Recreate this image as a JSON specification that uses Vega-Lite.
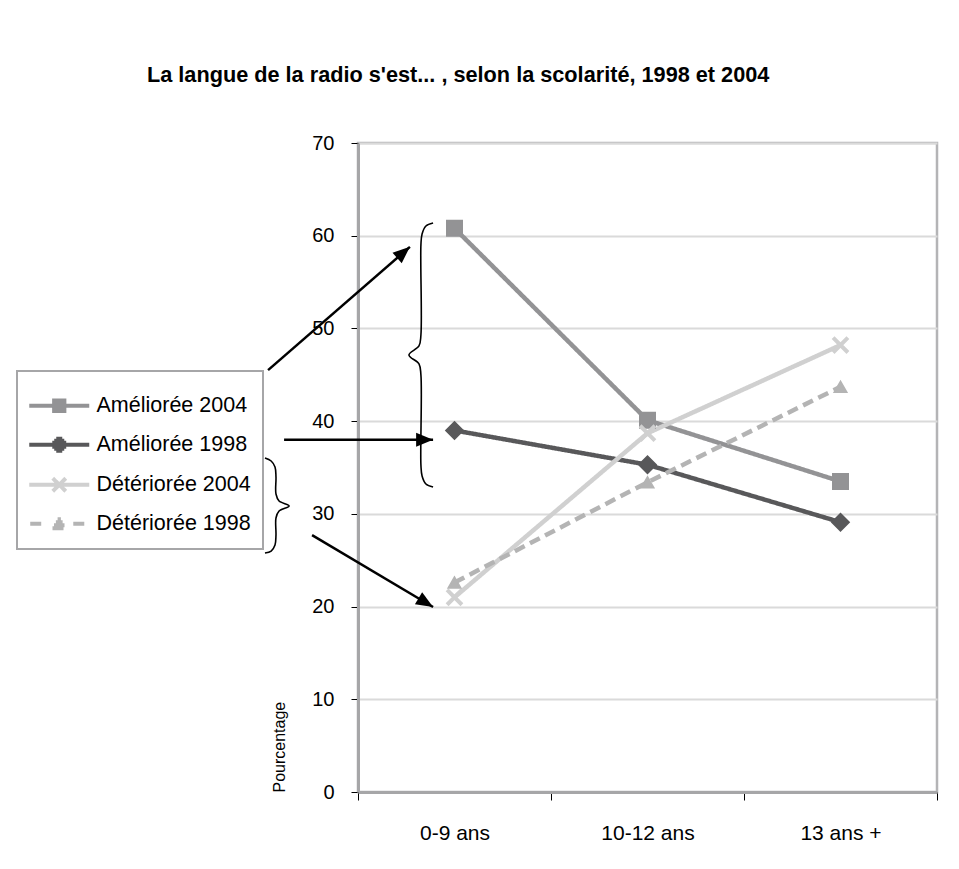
{
  "$schema": "https://vega.github.io/schema/vega-lite/v6.json",
  "width": 579,
  "height": 649,
  "autosize": "none",
  "padding": {"left": 358, "top": 143, "right": 22, "bottom": 77},
  "background": "white",
  "view": {"stroke": "#b4b4b6", "strokeWidth": 2.5},
  "title": {
    "text": "La langue de la radio s'est... , selon la scolarité, 1998 et 2004",
    "font": "Liberation Sans",
    "fontSize": 21.7,
    "fontWeight": "bold",
    "color": "black",
    "anchor": "start",
    "frame": "group",
    "dx": -211,
    "offset": 46
  },
  "datasets": {
    "main": [
      {"cat": "0-9 ans", "serie": "Améliorée 2004", "pct": 60.8},
      {"cat": "10-12 ans", "serie": "Améliorée 2004", "pct": 40.1},
      {"cat": "13 ans +", "serie": "Améliorée 2004", "pct": 33.5},
      {"cat": "0-9 ans", "serie": "Améliorée 1998", "pct": 39.0},
      {"cat": "10-12 ans", "serie": "Améliorée 1998", "pct": 35.3},
      {"cat": "13 ans +", "serie": "Améliorée 1998", "pct": 29.1},
      {"cat": "0-9 ans", "serie": "Détériorée 2004", "pct": 21.0},
      {"cat": "10-12 ans", "serie": "Détériorée 2004", "pct": 38.7},
      {"cat": "13 ans +", "serie": "Détériorée 2004", "pct": 48.2},
      {"cat": "0-9 ans", "serie": "Détériorée 1998", "pct": 22.6},
      {"cat": "10-12 ans", "serie": "Détériorée 1998", "pct": 33.4},
      {"cat": "13 ans +", "serie": "Détériorée 1998", "pct": 43.7}
    ],
    "arrows": [
      {"id": "a1", "i": 0, "ax": -0.966, "pct": 45.5},
      {"id": "a1", "i": 1, "ax": -0.231, "pct": 58.8},
      {"id": "a2", "i": 0, "ax": -0.883, "pct": 38.0},
      {"id": "a2", "i": 1, "ax": -0.111, "pct": 38.0},
      {"id": "a3", "i": 0, "ax": -0.738, "pct": 27.7},
      {"id": "a3", "i": 1, "ax": -0.111, "pct": 19.95}
    ],
    "braces": [
      {"id": "b1", "i": 0, "ax": -0.111, "pct": 61.37},
      {"id": "b1", "i": 1, "ax": -0.148, "pct": 61.05},
      {"id": "b1", "i": 2, "ax": -0.168, "pct": 60.19},
      {"id": "b1", "i": 3, "ax": -0.174, "pct": 59.0},
      {"id": "b1", "i": 4, "ax": -0.174, "pct": 49.29},
      {"id": "b1", "i": 5, "ax": -0.184, "pct": 48.11},
      {"id": "b1", "i": 6, "ax": -0.236, "pct": 47.14},
      {"id": "b1", "i": 7, "ax": -0.184, "pct": 46.17},
      {"id": "b1", "i": 8, "ax": -0.174, "pct": 44.98},
      {"id": "b1", "i": 9, "ax": -0.174, "pct": 35.27},
      {"id": "b1", "i": 10, "ax": -0.168, "pct": 34.09},
      {"id": "b1", "i": 11, "ax": -0.148, "pct": 33.22},
      {"id": "b1", "i": 12, "ax": -0.111, "pct": 32.9},
      {"id": "b2", "i": 0, "ax": -0.982, "pct": 36.03},
      {"id": "b2", "i": 1, "ax": -0.950, "pct": 35.7},
      {"id": "b2", "i": 2, "ax": -0.930, "pct": 35.06},
      {"id": "b2", "i": 3, "ax": -0.925, "pct": 33.98},
      {"id": "b2", "i": 4, "ax": -0.925, "pct": 32.14},
      {"id": "b2", "i": 5, "ax": -0.909, "pct": 31.39},
      {"id": "b2", "i": 6, "ax": -0.857, "pct": 30.85},
      {"id": "b2", "i": 7, "ax": -0.909, "pct": 30.31},
      {"id": "b2", "i": 8, "ax": -0.925, "pct": 29.55},
      {"id": "b2", "i": 9, "ax": -0.925, "pct": 27.72},
      {"id": "b2", "i": 10, "ax": -0.930, "pct": 26.64},
      {"id": "b2", "i": 11, "ax": -0.950, "pct": 25.99},
      {"id": "b2", "i": 12, "ax": -0.982, "pct": 25.78}
    ],
    "heads": [
      {"id": "a1", "ax": -0.231, "pct": 58.8},
      {"id": "a2", "ax": -0.111, "pct": 38.0},
      {"id": "a3", "ax": -0.111, "pct": 19.95}
    ]
  },
  "layer": [
    {
      "data": {"name": "main"},
      "encoding": {
        "x": {
          "field": "cat",
          "type": "nominal",
          "sort": ["0-9 ans", "10-12 ans", "13 ans +"],
          "scale": {"type": "band", "paddingInner": 0, "paddingOuter": 0},
          "axis": {
            "title": null,
            "labelAngle": 0,
            "labelFont": "Liberation Sans",
            "labelFontSize": 21,
            "labelColor": "black",
            "labelPadding": 22,
            "tickBand": "extent",
            "tickColor": "black",
            "tickSize": 8,
            "tickWidth": 1,
            "domainColor": "#a6a6a8",
            "domainWidth": 3,
            "grid": false
          }
        },
        "y": {
          "field": "pct",
          "type": "quantitative",
          "scale": {"domain": [0, 70], "nice": false, "zero": true},
          "axis": {
            "title": "Pourcentage",
            "titleFont": "Liberation Sans",
            "titleFontSize": 16,
            "titleFontWeight": "normal",
            "titleColor": "black",
            "titleAnchor": "start",
            "titlePadding": 24,
            "values": [0, 10, 20, 30, 40, 50, 60, 70],
            "labelFont": "Liberation Sans",
            "labelFontSize": 20,
            "labelColor": "black",
            "labelPadding": 17,
            "tickColor": "black",
            "tickSize": 7,
            "tickWidth": 1,
            "domainColor": "#a6a6a8",
            "domainWidth": 3,
            "grid": true,
            "gridColor": "#dadada",
            "gridWidth": 2
          }
        },
        "color": {
          "field": "serie",
          "type": "nominal",
          "scale": {
            "domain": ["Améliorée 2004", "Améliorée 1998", "Détériorée 2004", "Détériorée 1998"],
            "range": ["#939395", "#58585a", "#d0d0d0", "#b4b4b4"]
          },
          "legend": null
        }
      },
      "layer": [
        {
          "mark": {"type": "line", "strokeWidth": 4.5},
          "encoding": {
            "color": {
              "field": "serie",
              "type": "nominal",
              "legend": {
                "orient": "none",
                "legendX": -341,
                "legendY": 228,
                "title": "\u00a0",
                "titleFontSize": 12,
                "titlePadding": 0,
                "padding": 12,
                "strokeColor": "#a6a6a8",
                "fillColor": "white",
                "symbolSize": 225,
                "symbolStrokeWidth": 4,
                "rowPadding": 11,
                "labelOffset": 46,
                "labelFont": "Liberation Sans",
                "labelFontSize": 21.5,
                "labelColor": "black",
                "labelLimit": 400,
                "encode": {
                  "legend": {"update": {"strokeWidth": {"value": 2}}},
                  "symbols": {
                    "update": {
                      "shape": {"signal": "datum.value === 'Améliorée 2004' ? 'M-1.4,0H6.6M1.65,-0.7H3.55M1.65,-0.25H3.55M1.65,0.25H3.55M1.65,0.7H3.55' : datum.value === 'Améliorée 1998' ? 'M-1.4,0H6.6M1.67,-0.27H3.53M1.93,-0.53H3.27M2.2,-0.8H3.0M1.67,0.27H3.53M1.93,0.53H3.27M2.2,0.8H3.0' : datum.value === 'Détériorée 2004' ? 'M-1.4,0H6.6M1.73,-0.87L3.47,0.87M1.73,0.87L3.47,-0.87' : 'M-1.27,0H0.2M4.47,0H6.2M2.38,-0.6H2.82M2.15,-0.2H3.05M1.9,0.2H3.3M1.7,0.6H3.5'"},
                      "size": {"value": 225},
                      "strokeWidth": {"value": 4}
                    }
                  }
                }
              }
            },
            "strokeDash": {
              "field": "serie",
              "type": "nominal",
              "scale": {
                "domain": ["Améliorée 2004", "Améliorée 1998", "Détériorée 2004", "Détériorée 1998"],
                "range": [[1, 0], [1, 0], [1, 0], [11, 6]]
              },
              "legend": null
            }
          }
        },
        {
          "transform": [{"filter": "datum.serie === 'Améliorée 2004'"}],
          "mark": {"type": "point", "filled": true, "opacity": 1, "shape": "square", "size": 240, "strokeWidth": 1.5, "stroke": "#939395"}
        },
        {
          "transform": [{"filter": "datum.serie === 'Améliorée 1998'"}],
          "mark": {"type": "point", "filled": true, "opacity": 1, "shape": "diamond", "size": 300, "strokeWidth": 1.5, "stroke": "#58585a"}
        },
        {
          "transform": [{"filter": "datum.serie === 'Détériorée 2004'"}],
          "mark": {"type": "point", "filled": false, "opacity": 1, "shape": "M-1,-1L1,1M-1,1L1,-1", "size": 220, "strokeWidth": 4}
        },
        {
          "transform": [{"filter": "datum.serie === 'Détériorée 1998'"}],
          "mark": {"type": "point", "filled": true, "opacity": 1, "shape": "triangle-up", "size": 160, "strokeWidth": 1.5, "stroke": "#b4b4b4"}
        }
      ]
    },
    {
      "encoding": {
        "x": {
          "field": "ax",
          "type": "quantitative",
          "scale": {"domain": [-0.5, 2.5], "nice": false, "zero": false},
          "axis": null
        },
        "y": {"field": "pct", "type": "quantitative"}
      },
      "layer": [
        {
          "data": {"name": "arrows"},
          "mark": {"type": "line", "color": "black", "strokeWidth": 2.5},
          "encoding": {
            "detail": {"field": "id", "type": "nominal"},
            "order": {"field": "i", "type": "quantitative"}
          }
        },
        {
          "data": {"name": "braces"},
          "mark": {"type": "line", "color": "black", "strokeWidth": 1.6, "interpolate": "catmull-rom"},
          "encoding": {
            "detail": {"field": "id", "type": "nominal"},
            "order": {"field": "i", "type": "quantitative"}
          }
        },
        {
          "data": {"name": "heads"},
          "transform": [{"filter": "datum.id === 'a1'"}],
          "mark": {"type": "point", "filled": true, "color": "black", "opacity": 1, "shape": "M0,0L-0.6,1.45L0.6,1.45Z", "size": 548, "angle": 49}
        },
        {
          "data": {"name": "heads"},
          "transform": [{"filter": "datum.id === 'a2'"}],
          "mark": {"type": "point", "filled": true, "color": "black", "opacity": 1, "shape": "M0,0L-0.6,1.45L0.6,1.45Z", "size": 548, "angle": 90}
        },
        {
          "data": {"name": "heads"},
          "transform": [{"filter": "datum.id === 'a3'"}],
          "mark": {"type": "point", "filled": true, "color": "black", "opacity": 1, "shape": "M0,0L-0.6,1.45L0.6,1.45Z", "size": 548, "angle": 121}
        }
      ]
    }
  ],
  "resolve": {"scale": {"x": "independent"}}
}
